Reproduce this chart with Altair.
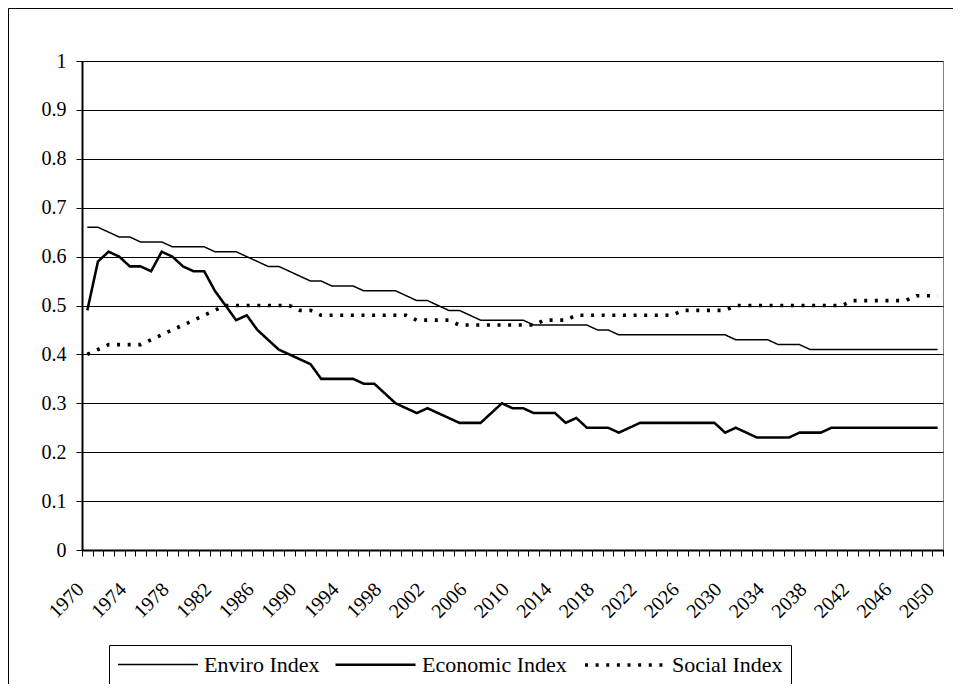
import altair as alt
import pandas as pd

years = list(range(1970, 2051))

enviro = [
    0.66, 0.66, 0.65, 0.64, 0.64, 0.63, 0.63, 0.63, 0.62, 0.62,   # 1970-1979
    0.62, 0.62, 0.61, 0.61, 0.61, 0.60, 0.59, 0.58, 0.58, 0.57,   # 1980-1989
    0.56, 0.55, 0.55, 0.54, 0.54, 0.54, 0.53, 0.53, 0.53, 0.53,   # 1990-1999
    0.52, 0.51, 0.51, 0.50, 0.49, 0.49, 0.48, 0.47, 0.47, 0.47,   # 2000-2009
    0.47, 0.47, 0.46, 0.46, 0.46, 0.46, 0.46, 0.46, 0.45, 0.45,   # 2010-2019
    0.44, 0.44, 0.44, 0.44, 0.44, 0.44, 0.44, 0.44, 0.44, 0.44,   # 2020-2029
    0.44, 0.43, 0.43, 0.43, 0.43, 0.42, 0.42, 0.42, 0.41, 0.41,   # 2030-2039
    0.41, 0.41, 0.41, 0.41, 0.41, 0.41, 0.41, 0.41, 0.41, 0.41,   # 2040-2049
    0.41,                                                         # 2050
]

economic = [
    0.49, 0.59, 0.61, 0.60, 0.58, 0.58, 0.57, 0.61, 0.60, 0.58,   # 1970-1979
    0.57, 0.57, 0.53, 0.50, 0.47, 0.48, 0.45, 0.43, 0.41, 0.40,   # 1980-1989
    0.39, 0.38, 0.35, 0.35, 0.35, 0.35, 0.34, 0.34, 0.32, 0.30,   # 1990-1999
    0.29, 0.28, 0.29, 0.28, 0.27, 0.26, 0.26, 0.26, 0.28, 0.30,   # 2000-2009
    0.29, 0.29, 0.28, 0.28, 0.28, 0.26, 0.27, 0.25, 0.25, 0.25,   # 2010-2019
    0.24, 0.25, 0.26, 0.26, 0.26, 0.26, 0.26, 0.26, 0.26, 0.26,   # 2020-2029
    0.24, 0.25, 0.24, 0.23, 0.23, 0.23, 0.23, 0.24, 0.24, 0.24,   # 2030-2039
    0.25, 0.25, 0.25, 0.25, 0.25, 0.25, 0.25, 0.25, 0.25, 0.25,   # 2040-2049
    0.25,                                                         # 2050
]

social = [
    0.40, 0.41, 0.42, 0.42, 0.42, 0.42, 0.43, 0.44, 0.45, 0.46,   # 1970-1979
    0.47, 0.48, 0.49, 0.50, 0.50, 0.50, 0.50, 0.50, 0.50, 0.50,   # 1980-1989
    0.49, 0.49, 0.48, 0.48, 0.48, 0.48, 0.48, 0.48, 0.48, 0.48,   # 1990-1999
    0.48, 0.47, 0.47, 0.47, 0.47, 0.46, 0.46, 0.46, 0.46, 0.46,   # 2000-2009
    0.46, 0.46, 0.46, 0.47, 0.47, 0.47, 0.48, 0.48, 0.48, 0.48,   # 2010-2019
    0.48, 0.48, 0.48, 0.48, 0.48, 0.48, 0.49, 0.49, 0.49, 0.49,   # 2020-2029
    0.49, 0.50, 0.50, 0.50, 0.50, 0.50, 0.50, 0.50, 0.50, 0.50,   # 2030-2039
    0.50, 0.50, 0.51, 0.51, 0.51, 0.51, 0.51, 0.51, 0.52, 0.52,   # 2040-2049
    0.52,                                                         # 2050
]

series_names = ["Enviro Index", "Economic Index", "Social Index"]
y_ticks = [round(i * 0.1, 1) for i in range(11)]
label_years = list(range(1970, 2051, 4))

rows = []
for name, vals in zip(series_names, [enviro, economic, social]):
    for yr, v in zip(years, vals):
        rows.append({"year": yr, "value": v, "series": name})
df = pd.DataFrame(rows)

boundaries = [yr - 0.5 for yr in years] + [years[-1] + 0.5]
x_axis_values = boundaries + label_years

FONT = "Liberation Serif"

legend = alt.Legend(
    title=None,
    orient="none",
    legendX=27,
    legendY=584,
    direction="horizontal",
    symbolType="M-1,0H7",
    symbolSize=400,
    symbolStrokeWidth=1.5,
    labelFont=FONT,
    labelFontSize=22,
    labelColor="black",
    labelOffset=65,
    columnPadding=10,
    padding=8,
    strokeColor="black",
    fillColor="white",
)

lines = alt.Chart(df).mark_line(clip=False).encode(
    x=alt.X(
        "year:Q",
        scale=alt.Scale(domain=[1969.5, 2050.5], nice=False, zero=False),
        axis=alt.Axis(
            title=None,
            values=x_axis_values,
            labelExpr="datum.value % 1 === 0 ? toString(datum.value) : ''",
            tickOpacity={"condition": {"test": "datum.value % 1 === 0", "value": 0}, "value": 1},
            labelAngle=-45,
            labelAlign="right",
            labelBaseline="middle",
            labelPadding=30,
            labelOffset=-7,
            labelOverlap=False,
            labelFlush=False,
            labelBound=False,
            tickSize=6,
            grid=False,
            domainWidth=2,
        ),
    ),
    y=alt.Y(
        "value:Q",
        scale=alt.Scale(domain=[0, 1], nice=False),
        axis=alt.Axis(
            title=None,
            values=y_ticks,
            format=".1~f",
            tickSize=6,
            labelPadding=10,
            grid=True,
            gridColor="black",
            gridWidth=1,
            domainWidth=2,
        ),
    ),
    color=alt.Color(
        "series:N",
        scale=alt.Scale(domain=series_names, range=["black", "black", "black"]),
        sort=series_names,
        legend=legend,
    ),
    strokeWidth=alt.StrokeWidth(
        "series:N",
        scale=alt.Scale(domain=series_names, range=[1.5, 3.6, 1.8]),
        sort=series_names,
        legend=legend,
    ),
    strokeDash=alt.StrokeDash(
        "series:N",
        scale=alt.Scale(domain=series_names, range=[[1, 0], [1, 0], [3, 7.63]]),
        sort=series_names,
        legend=legend,
    ),
    order=alt.Order("year:Q"),
)

frame_data = alt.Data(values=[{"k": 1}])
frame_left = alt.Chart(frame_data).mark_rule(color="black", strokeWidth=1).encode(
    x=alt.value(-73.5), y=alt.value(-52.5), y2=alt.value(700)
)
frame_top = alt.Chart(frame_data).mark_rule(color="black", strokeWidth=1).encode(
    y=alt.value(-52.5), x=alt.value(-73.5), x2=alt.value(1000)
)

chart = alt.layer(lines, frame_left, frame_top).properties(
    width=861,
    height=489,
    autosize=alt.AutoSizeParams(type="none"),
    padding={"left": 74, "top": 53, "right": 10, "bottom": 134},
    background="white",
).configure_axis(
    labelFont=FONT,
    labelFontSize=20,
    labelColor="black",
    domainColor="black",
    tickColor="black",
    tickWidth=1,
).configure_view(
    stroke="#808080",
    strokeWidth=1,
)

chart.save("out.html", embed_options={"renderer": "svg", "actions": False})
